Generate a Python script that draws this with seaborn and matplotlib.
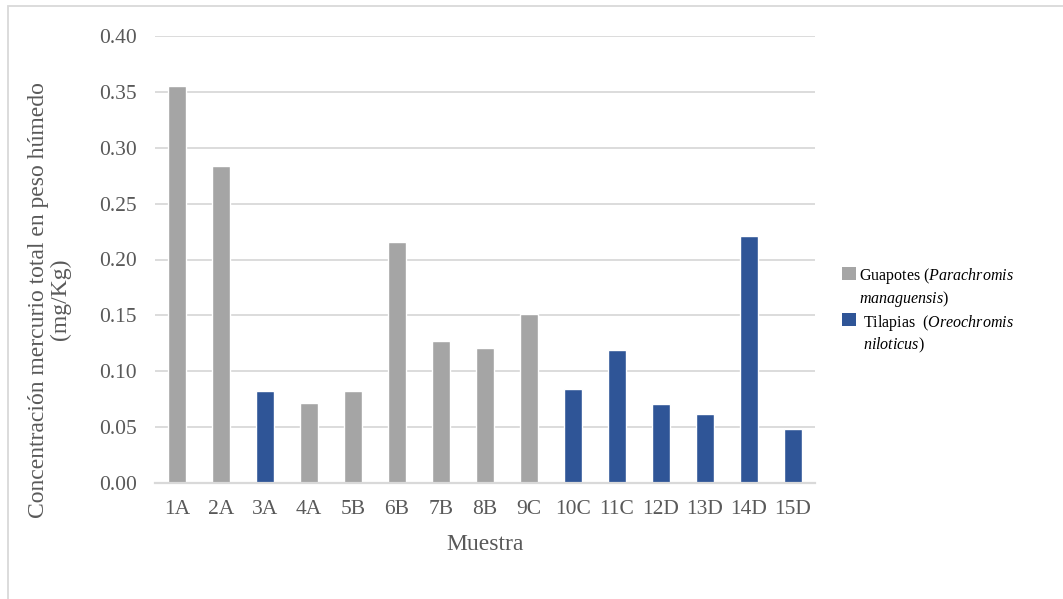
import matplotlib
matplotlib.use("Agg")
import matplotlib.pyplot as plt
from matplotlib.patches import Rectangle
from matplotlib.legend_handler import HandlerPatch
import seaborn as sns
import pandas as pd

# Total mercury concentration (wet weight) per fish sample
muestras = ["1A", "2A", "3A", "4A", "5B", "6B", "7B", "8B", "9C",
            "10C", "11C", "12D", "13D", "14D", "15D"]
concentracion = [0.355, 0.284, 0.082, 0.072, 0.082, 0.216, 0.127, 0.121, 0.151,
                 0.084, 0.119, 0.071, 0.062, 0.221, 0.048]
especie = ["Guapotes", "Guapotes", "Tilapias", "Guapotes", "Guapotes", "Guapotes",
           "Guapotes", "Guapotes", "Guapotes", "Tilapias", "Tilapias", "Tilapias",
           "Tilapias", "Tilapias", "Tilapias"]
etiquetas = {
    "Guapotes": "Guapotes ($\\it{Parachromis}$\n$\\it{managuensis}$)",
    "Tilapias": " Tilapias  ($\\it{Oreochromis}$\n $\\it{niloticus}$)",
}
colores = {"Guapotes": "#A5A5A5", "Tilapias": "#2F5597"}
yticks = [0.00, 0.05, 0.10, 0.15, 0.20, 0.25, 0.30, 0.35, 0.40]

df = pd.DataFrame({"Muestra": muestras, "Concentracion": concentracion,
                   "Especie": especie})

sns.set_theme(style="white")
plt.rcParams["font.family"] = ["Liberation Serif", "DejaVu Serif"]
plt.rcParams["mathtext.fontset"] = "custom"
plt.rcParams["mathtext.it"] = "Liberation Serif:italic"
plt.rcParams["mathtext.rm"] = "Liberation Serif"

txt = "#595959"
grid = "#D9D9D9"

fig = plt.figure(figsize=(10.63, 5.99), dpi=100)
ax = fig.add_axes([155 / 1063, 1 - 483 / 599, 660 / 1063, 447 / 599])

sns.barplot(data=df, x="Muestra", y="Concentracion", hue="Especie",
            palette=colores, dodge=False, width=0.4, saturation=1,
            order=muestras, hue_order=["Guapotes", "Tilapias"], ax=ax,
            legend=True)

ax.set_ylim(0, 0.40)
ax.set_xlim(-0.5, len(muestras) - 0.5)
ax.set_yticks(yticks)
ax.set_yticklabels([f"{v:.2f}" for v in yticks])
ax.yaxis.grid(True, color=grid, lw=1.3)
ax.set_axisbelow(True)
for s in ["top", "right", "left"]:
    ax.spines[s].set_visible(False)
ax.spines["bottom"].set_color(grid)
ax.spines["bottom"].set_linewidth(1.6)
ax.tick_params(axis="both", length=0, labelsize=15.5, labelcolor=txt)
ax.tick_params(axis="y", pad=13)
ax.tick_params(axis="x", pad=12)

ax.set_xlabel("Muestra", fontsize=17, color=txt)
ax.xaxis.set_label_coords(0.5, -0.115)
ax.set_ylabel("Concentración mercurio total en peso húmedo\n(mg/Kg)",
              fontsize=17, color=txt, multialignment="center", linespacing=1.05)
ax.yaxis.set_label_coords(-0.128, 0.41)


class TopSquare(HandlerPatch):
    def create_artists(self, legend, orig_handle, xdescent, ydescent,
                       width, height, fontsize, trans):
        r = Rectangle((-xdescent, -ydescent + fontsize * 0.9), width, height,
                      facecolor=orig_handle.get_facecolor(), edgecolor="none",
                      transform=trans)
        return [r]


handles, labels = ax.get_legend_handles_labels()
ax.get_legend().remove()
leg = fig.legend(handles, [etiquetas[l] for l in labels],
                 loc="upper left", bbox_to_anchor=(842 / 1063, 1 - 266 / 599),
                 frameon=False, fontsize=11.5, labelcolor="#000000",
                 handlelength=0.9, handleheight=0.9, handletextpad=0.15,
                 labelspacing=0.24, borderaxespad=0, borderpad=0,
                 handler_map={h: TopSquare() for h in handles})

# Outer chart-area frame
fig.patches.append(Rectangle((8 / 1063, -0.2), 1.5, 1.2 - 6 / 599,
                             transform=fig.transFigure, fill=False,
                             edgecolor=grid, lw=1.3))

fig.savefig("out.png", dpi=100)
